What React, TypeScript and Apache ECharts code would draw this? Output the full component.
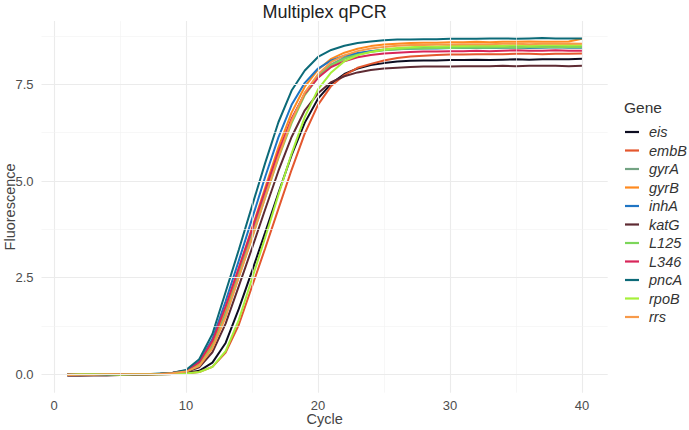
import React, { useEffect, useRef } from "react";
import * as echarts from "echarts";

const cycles = [1, 2, 3, 4, 5, 6, 7, 8, 9, 10, 11, 12, 13, 14, 15, 16, 17, 18, 19, 20, 21, 22, 23, 24, 25, 26, 27, 28, 29, 30, 31, 32, 33, 34, 35, 36, 37, 38, 39, 40];

const genes = ["eis", "embB", "gyrA", "gyrB", "inhA", "katG", "L125", "L346", "pncA", "rpoB", "rrs"];

const eis = [-0.01, -0.01, -0.01, 0.0, 0.0, 0.0, 0.0, 0.0, 0.01, 0.03, 0.09, 0.3, 0.81, 1.69, 2.67, 3.67, 4.69, 5.67, 6.51, 7.13, 7.52, 7.77, 7.91, 8.0, 8.05, 8.09, 8.11, 8.12, 8.12, 8.13, 8.13, 8.14, 8.13, 8.14, 8.15, 8.14, 8.15, 8.15, 8.15, 8.16];
const embB = [-0.02, -0.02, -0.01, -0.01, -0.01, 0.0, 0.0, 0.0, 0.01, 0.02, 0.06, 0.19, 0.56, 1.28, 2.27, 3.26, 4.28, 5.29, 6.23, 6.97, 7.46, 7.74, 7.93, 8.03, 8.12, 8.18, 8.22, 8.24, 8.26, 8.27, 8.27, 8.28, 8.28, 8.28, 8.29, 8.29, 8.28, 8.29, 8.29, 8.3];
const gyrA = [0.0, 0.0, -0.01, 0.0, 0.01, 0.0, 0.0, 0.01, 0.03, 0.08, 0.26, 0.77, 1.62, 2.63, 3.65, 4.68, 5.7, 6.59, 7.28, 7.73, 8.02, 8.19, 8.29, 8.36, 8.4, 8.42, 8.44, 8.45, 8.45, 8.46, 8.46, 8.46, 8.47, 8.46, 8.47, 8.47, 8.47, 8.48, 8.47, 8.47];
const gyrB = [-0.01, 0.0, 0.0, -0.01, 0.0, 0.0, 0.0, 0.01, 0.03, 0.09, 0.28, 0.82, 1.71, 2.74, 3.78, 4.83, 5.87, 6.77, 7.44, 7.88, 8.16, 8.32, 8.42, 8.49, 8.53, 8.55, 8.57, 8.58, 8.58, 8.59, 8.59, 8.6, 8.59, 8.6, 8.6, 8.61, 8.6, 8.6, 8.61, 8.68];
const inhA = [-0.01, -0.01, 0.0, -0.01, 0.0, 0.0, 0.01, 0.01, 0.04, 0.1, 0.33, 0.91, 1.89, 2.94, 4.02, 5.11, 6.13, 6.97, 7.54, 7.91, 8.12, 8.24, 8.31, 8.36, 8.39, 8.41, 8.42, 8.43, 8.43, 8.44, 8.44, 8.45, 8.44, 8.45, 8.45, 8.44, 8.45, 8.46, 8.45, 8.45];
const katG = [-0.04, -0.04, -0.03, -0.03, -0.02, -0.02, -0.01, 0.01, 0.02, 0.06, 0.18, 0.57, 1.31, 2.28, 3.26, 4.27, 5.26, 6.14, 6.83, 7.27, 7.56, 7.71, 7.81, 7.87, 7.91, 7.93, 7.95, 7.96, 7.96, 7.96, 7.97, 7.97, 7.97, 7.98, 7.97, 7.98, 7.98, 7.98, 7.97, 7.98];
const L125 = [0.0, -0.01, 0.0, 0.0, 0.0, 0.01, 0.0, 0.01, 0.03, 0.07, 0.23, 0.7, 1.51, 2.52, 3.53, 4.57, 5.59, 6.5, 7.22, 7.68, 7.99, 8.16, 8.27, 8.34, 8.38, 8.41, 8.43, 8.43, 8.44, 8.44, 8.45, 8.45, 8.45, 8.46, 8.45, 8.46, 8.46, 8.46, 8.47, 8.46];
const L346 = [0.0, -0.01, -0.01, 0.0, 0.0, 0.0, 0.0, 0.01, 0.04, 0.09, 0.31, 0.86, 1.76, 2.75, 3.75, 4.76, 5.76, 6.61, 7.26, 7.67, 7.95, 8.1, 8.2, 8.26, 8.3, 8.32, 8.34, 8.35, 8.35, 8.36, 8.36, 8.37, 8.36, 8.37, 8.38, 8.37, 8.37, 8.38, 8.37, 8.37];
const pncA = [-0.02, -0.02, -0.01, -0.01, -0.01, 0.0, 0.0, 0.02, 0.04, 0.11, 0.39, 1.04, 2.13, 3.22, 4.35, 5.47, 6.52, 7.34, 7.86, 8.21, 8.39, 8.5, 8.57, 8.61, 8.64, 8.66, 8.66, 8.67, 8.67, 8.68, 8.68, 8.68, 8.69, 8.69, 8.68, 8.69, 8.7, 8.69, 8.69, 8.69];
const rpoB = [-0.01, 0.0, 0.0, 0.0, -0.01, 0.0, 0.0, 0.0, 0.01, 0.02, 0.06, 0.19, 0.6, 1.41, 2.47, 3.54, 4.64, 5.71, 6.66, 7.37, 7.81, 8.1, 8.25, 8.34, 8.4, 8.44, 8.46, 8.48, 8.48, 8.49, 8.49, 8.5, 8.5, 8.5, 8.51, 8.5, 8.51, 8.51, 8.52, 8.51];
const rrs = [-0.02, -0.01, -0.01, 0.0, 0.0, 0.0, 0.0, 0.01, 0.03, 0.07, 0.21, 0.67, 1.48, 2.51, 3.53, 4.58, 5.62, 6.56, 7.29, 7.76, 8.08, 8.25, 8.36, 8.43, 8.47, 8.5, 8.52, 8.52, 8.53, 8.53, 8.54, 8.54, 8.54, 8.55, 8.55, 8.54, 8.55, 8.55, 8.56, 8.55];

const geneValues = [eis, embB, gyrA, gyrB, inhA, katG, L125, L346, pncA, rpoB, rrs];
const geneColors = ["#0D0D21", "#E4572E", "#73A383", "#FF8A1F", "#1F75C4", "#5E2B33", "#7CD65A", "#D8265A", "#0C6A78", "#A6F03A", "#F79A4A"];

const xTicks = [0, 10, 20, 30, 40];
const xMinor = [5, 15, 25, 35];
const yTicks = [0, 2.5, 5, 7.5];
const yMinor = [1.25, 3.75, 6.25, 8.75];

const FONT = '"Liberation Sans", Arial, sans-serif';

export default function App() {
  const ref = useRef<HTMLDivElement>(null);
  useEffect(() => {
    if (!ref.current) return;
    const chart = echarts.init(ref.current, null, { renderer: "svg" });
    const major = { color: "#EBEBEB", width: 1.1, type: "solid" };
    const minor = { color: "#F2F2F2", width: 0.6, type: "solid" };
    const gridLines = [
      ...xTicks.map((v) => ({ xAxis: v, lineStyle: major })),
      ...xMinor.map((v) => ({ xAxis: v, lineStyle: minor })),
      ...yTicks.map((v) => ({ yAxis: v, lineStyle: major })),
      ...yMinor.map((v) => ({ yAxis: v, lineStyle: minor })),
    ];
    const series: any[] = [
      {
        type: "line",
        name: "__grid",
        data: [[cycles[0], 0]],
        symbol: "none",
        lineStyle: { opacity: 0 },
        silent: true,
        z: 1,
        markLine: {
          silent: true,
          symbol: ["none", "none"],
          label: { show: false },
          emphasis: { disabled: true },
          animation: false,
          data: gridLines,
        },
      },
      ...genes.map((g, gi) => ({
        type: "line",
        name: g,
        data: cycles.map((c, i) => [c, geneValues[gi][i]]),
        symbol: "none",
        showSymbol: false,
        smooth: false,
        z: 2,
        lineStyle: { color: geneColors[gi], width: 2 },
        itemStyle: { color: geneColors[gi] },
        emphasis: { disabled: true },
      })),
    ];
    chart.setOption({
      animation: false,
      backgroundColor: "#FFFFFF",
      textStyle: { fontFamily: FONT },
      grid: { left: 41.5, right: 81.3, top: 21.1, bottom: 37.3, containLabel: false, outerBoundsMode: "none" },
      xAxis: {
        type: "value",
        min: -0.95,
        max: 41.95,
        axisLine: { show: false },
        axisTick: { show: false, customValues: xTicks },
        splitLine: { show: false },
        axisLabel: {
          customValues: xTicks,
          color: "#4D4D4D",
          fontSize: 13,
          fontFamily: FONT,
          margin: 6,
          formatter: (v: number) => String(v),
        },
        name: "Cycle",
        nameLocation: "middle",
        nameGap: 19,
        nameMoveOverlap: false,
        nameTextStyle: { color: "#444444", fontSize: 14.5, fontFamily: FONT, lineHeight: 15 },
      },
      yAxis: {
        type: "value",
        min: -0.477,
        max: 9.137,
        axisLine: { show: false },
        axisTick: { show: false, customValues: yTicks },
        splitLine: { show: false },
        axisLabel: {
          customValues: yTicks,
          color: "#4D4D4D",
          fontSize: 13,
          fontFamily: FONT,
          margin: 8,
          formatter: (v: number) => v.toFixed(1),
        },
        name: "Fluorescence",
        nameLocation: "middle",
        nameGap: 24,
        nameMoveOverlap: false,
        nameTextStyle: { color: "#444444", fontSize: 14.5, fontFamily: FONT, lineHeight: 15 },
      },
      legend: {
        data: genes,
        orient: "vertical",
        left: 625,
        top: 124.5,
        padding: 0,
        icon: "rect",
        itemWidth: 14,
        itemHeight: 2.2,
        itemGap: 3.5,
        selectedMode: false,
        textStyle: {
          fontSize: 14.5,
          lineHeight: 14,
          fontStyle: "italic",
          color: "#333333",
          fontFamily: FONT,
          padding: [0, 0, 0, 5],
        },
      },
      graphic: [
        {
          type: "text",
          x: 324.6,
          y: 12,
          style: { text: "Multiplex qPCR", fontSize: 18, fontFamily: FONT, fill: "#222222", align: "center", verticalAlign: "middle" },
        },
        {
          type: "text",
          x: 624,
          y: 107,
          style: { text: "Gene", fontSize: 15.5, fontFamily: FONT, fill: "#333333", align: "left", verticalAlign: "middle" },
        },
      ],
      series,
    });
    return () => chart.dispose();
  }, []);
  return <div ref={ref} style={{ position: "fixed", left: 0, top: 0, width: 689, height: 430 }} />;
}
